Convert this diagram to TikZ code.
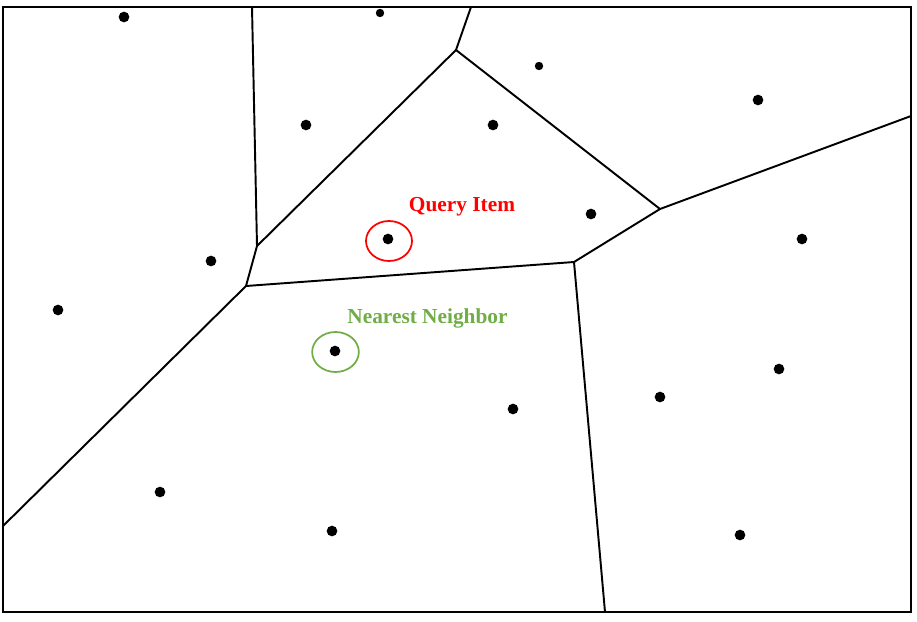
\documentclass[tikz,border=0pt]{standalone}
\usepackage{fontspec}
\setmainfont{Liberation Serif}
\definecolor{nngreen}{HTML}{70AD47}
\begin{document}
\begin{tikzpicture}[x=0.75pt,y=-0.75pt,
  edge/.style={line width=1.45pt,black},
  pt/.style={circle,fill=black,inner sep=0pt,minimum size=8pt},
  spt/.style={circle,fill=black,inner sep=0pt,minimum size=6.3pt},
  lbl/.style={font=\bfseries\fontsize{16}{18}\selectfont}]
\useasboundingbox (0,0) rectangle (917,621);
\draw[line width=0.9pt] (3,7) rectangle (911,612);
% Voronoi vertices
\coordinate (A) at (252,7);
\coordinate (B) at (257,246);
\coordinate (C) at (246,286);
\coordinate (D) at (456,50);
\coordinate (E) at (471,7);
\coordinate (F) at (660,209);
\coordinate (G) at (911,116);
\coordinate (H) at (574,262);
\coordinate (I) at (605,612);
\coordinate (J) at (3,526);
\draw[edge] (A) -- (B) -- (C);
\draw[edge] (B) -- (D) -- (E);
\draw[edge] (D) -- (F) -- (G);
\draw[edge] (F) -- (H) -- (C) -- (J);
\draw[edge] (H) -- (I);
% sites
\node[pt] (p1) at (124,17) {};
\node[spt] (p2) at (380,13) {};
\node[spt] (p3) at (539,66) {};
\node[pt] (p4) at (306,125) {};
\node[pt] (p5) at (493,125) {};
\node[pt] (p6) at (758,100) {};
\node[pt] (p7) at (591,214) {};
\node[pt] (q) at (388,239) {};
\node[pt] (p8) at (211,261) {};
\node[pt] (p9) at (58,310) {};
\node[pt] (p10) at (802,239) {};
\node[pt] (nn) at (335,351) {};
\node[pt] (p11) at (513,409) {};
\node[pt] (p12) at (660,397) {};
\node[pt] (p13) at (779,369) {};
\node[pt] (p14) at (160,492) {};
\node[pt] (p15) at (332,531) {};
\node[pt] (p16) at (740,535) {};
% highlight rings
\draw[red,line width=1.3pt] (389,241) ellipse [x radius=17.25pt, y radius=15pt];
\draw[nngreen,line width=1.3pt] (335.5,352) ellipse [x radius=17.5pt, y radius=15pt];
% labels
\node[lbl,text=red] (ql) at (462,207) {Query Item};
\node[lbl,text=nngreen] (nl) at (427.5,318) {Nearest Neighbor};
\end{tikzpicture}
\end{document}
